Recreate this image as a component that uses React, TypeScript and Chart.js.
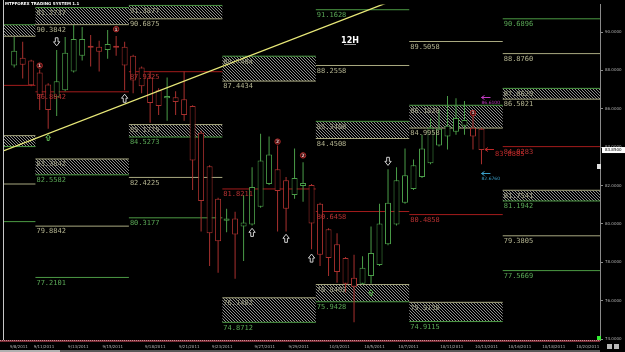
import { useEffect, useRef } from 'react';
import { Chart, registerables } from 'chart.js';

Chart.register(...registerables);

// ---- candle data (12H) ----
const opens = [88.25, 88.66, 88.51, 87.89, 87.27, 86.60, 86.96, 87.94, 88.77, 89.28, 89.23, 89.07, 89.28, 89.23, 88.77, 88.15, 87.63, 86.96, 86.55, 86.60, 86.50, 86.14, 84.75, 83.00, 81.31, 80.17, 80.28, 79.87, 79.97, 80.89, 82.08, 82.85, 82.28, 81.51, 81.97, 82.03, 81.05, 79.72, 78.94, 78.22, 77.19, 76.88, 77.29, 77.86, 78.94, 79.97, 81.10, 81.82, 82.44, 83.16, 84.08, 84.55, 84.80, 85.11, 85.01, 84.96];
const highs = [89.74, 89.49, 88.56, 88.05, 87.33, 89.07, 89.74, 90.36, 90.26, 89.85, 89.54, 90.10, 89.79, 89.49, 88.82, 88.20, 87.94, 87.07, 87.63, 86.91, 87.94, 86.19, 84.86, 83.06, 81.36, 80.79, 80.64, 81.51, 82.95, 84.70, 84.55, 84.08, 82.44, 83.93, 83.21, 82.08, 81.10, 79.77, 79.51, 78.27, 78.39, 78.32, 79.87, 81.05, 82.85, 82.95, 83.93, 83.36, 84.65, 85.52, 85.94, 86.66, 86.55, 86.40, 85.68, 85.01];
const lows = [88.15, 87.58, 87.17, 85.94, 84.96, 85.63, 86.91, 87.89, 88.51, 88.20, 87.94, 88.61, 88.77, 86.96, 86.81, 86.81, 85.27, 85.68, 85.37, 85.68, 85.37, 81.77, 79.61, 77.81, 77.45, 79.56, 77.14, 78.07, 79.92, 80.84, 82.03, 79.61, 79.61, 81.31, 81.15, 78.68, 77.81, 77.29, 76.93, 76.42, 74.88, 76.83, 76.88, 77.81, 78.89, 79.92, 81.05, 81.77, 82.39, 83.11, 84.03, 83.88, 84.65, 84.65, 83.88, 83.11];
const closes = [89.02, 88.30, 87.22, 86.71, 85.94, 87.43, 88.92, 89.64, 89.64, 89.18, 88.97, 89.38, 89.18, 88.25, 87.48, 87.17, 86.30, 86.14, 86.66, 86.35, 85.68, 83.31, 81.20, 79.51, 79.09, 80.28, 79.45, 80.07, 81.92, 83.31, 83.62, 81.72, 80.79, 82.39, 82.13, 80.02, 78.39, 78.22, 77.50, 76.88, 76.73, 77.71, 78.48, 80.02, 81.10, 82.28, 82.54, 83.06, 83.93, 85.01, 84.96, 85.11, 85.52, 85.42, 84.55, 83.85];

// ---- weekly level columns (in candle-index units) ----
const weekBounds = [-8.5, 2.5, 13.5, 24.5, 35.5, 46.5, 57.5, 70];

const greenLineCols = [0, 1, 2, 4, 6, 6];
const greenLineVals = [80.12, 77.2101, 80.3177, 91.1628, 90.6896, 77.5669];
const khakiLineCols = [0, 1, 2, 4, 5, 6, 6];
const khakiLineVals = [82.08, 79.8842, 82.4225, 88.2558, 89.5058, 88.876, 79.3805];
const redLineCols = [0, 1, 2, 3, 4, 5, 6];
const redLineVals = [87.22, 86.8842, 87.9325, 81.8211, 80.6458, 80.4858, 84.0283];

const resZoneCols = [0, 1, 2, 3, 4, 5, 6];
const resZoneTops = [90.38, 91.2737, 91.3877, 88.7404, 85.3468, 86.1828, 87.0629];
const resZoneBottoms = [89.78, 90.3842, 90.6875, 87.4434, 84.4508, 84.9958, 86.5021];
const supZoneCols = [0, 1, 2, 3, 4, 5, 6];
const supZoneTops = [84.60, 83.3842, 85.1775, 76.1482, 76.8402, 75.9138, 81.7541];
const supZoneBottoms = [84.03, 82.5582, 84.5273, 74.8712, 75.9428, 74.9115, 81.1942];

// ---- trend line ----
const trendX = [-1.2, 50];
const trendY = [83.82, 92.57];

// ---- signal markers ----
const markerIdx = [3, 5, 12, 13, 4, 28, 31, 32, 34, 35, 42, 44, 54];
const markerVals = [88.25, 89.49, 90.15, 86.55, 84.50, 79.56, 84.29, 79.25, 83.57, 78.22, 76.42, 83.26, 85.78];
const markerKinds = ['r1', 'down', 'r1', 'up', 'gup', 'up', 'r2', 'up', 'r2', 'up', 'gup', 'down', 'r1'];

// ---- price arrows at the last candle ----
const arrowVals = [86.61, 83.8885, 82.676];
const arrowColors = ['#c23cc2', '#c02828', '#3a9ec8'];
const arrowIdx = 55;
const lastPrice = 83.85;

// ---- axes ----
const dateIdx = [0.55, 3.5, 7.55, 11.6, 16.6, 20.6, 24.5, 29.5, 33.5, 38.3, 42.4, 46.4, 51.5, 55.6, 59.5, 63.5, 67.5];
const dateLabels = ['9/8/2011', '9/11/2011', '9/13/2011', '9/15/2011', '9/18/2011', '9/21/2011', '9/23/2011', '9/27/2011', '9/29/2011', '10/3/2011', '10/5/2011', '10/7/2011', '10/11/2011', '10/13/2011', '10/16/2011', '10/18/2011', '10/20/2011'];
const yTickVals = [74, 76, 78, 80, 82, 84, 86, 88, 90];

const GREEN_LINE = '#4c9a44';
const KHAKI_LINE = '#a9a980';
const RED_LINE = '#a31c1c';
const GREEN_C = '#4a9c48';
const RED_C = '#a8302e';
const GREEN_TXT = '#5aa856';
const KHAKI_TXT = '#b4b490';
const RED_TXT = '#b83232';
const ZONE_TXT = '#a0a084';

function segs(cols: number[], vals: number[]) {
  const out: any[] = [];
  cols.forEach((c, i) => {
    out.push({ x: weekBounds[c], y: vals[i] }, { x: weekBounds[c + 1], y: vals[i] }, { x: weekBounds[c + 1], y: null });
  });
  return out;
}

function hollowArrow(ctx: CanvasRenderingContext2D, cx: number, cy: number, dir: number, color: string, s: number) {
  const p = [[-1.5, -4.5], [1.5, -4.5], [1.5, 0], [3.5, 0], [0, 4.5], [-3.5, 0], [-1.5, 0]];
  ctx.beginPath();
  p.forEach(([a, b], k) => {
    const X = cx + a * s, Y = cy + b * dir * s;
    if (k) ctx.lineTo(X, Y); else ctx.moveTo(X, Y);
  });
  ctx.closePath();
  ctx.strokeStyle = color;
  ctx.lineWidth = 1;
  ctx.stroke();
}

export default function App() {
  const ref = useRef<HTMLCanvasElement>(null);
  useEffect(() => {
    document.body.style.margin = '0';
    document.body.style.background = '#000';
    const canvas = ref.current!;
    const idx = opens.map((_, i) => i);
    const colors = idx.map(i => (closes[i] >= opens[i] ? GREEN_C : RED_C));

    const pc = document.createElement('canvas');
    pc.width = 3; pc.height = 3;
    const pg = pc.getContext('2d')!;
    pg.fillStyle = '#8e8e8e';
    for (let i = 0; i < 3; i++) pg.fillRect(i, i, 1, 1);

    const overlay = {
      id: 'overlay',
      beforeDraw(chart: any) {
        const ctx = chart.ctx;
        ctx.save();
        ctx.fillStyle = '#000';
        ctx.fillRect(0, 0, chart.width, chart.height);
        ctx.restore();
      },
      beforeDatasetsDraw(chart: any) {
        const ctx = chart.ctx as CanvasRenderingContext2D;
        const xs = chart.scales.x, ys = chart.scales.y, a = chart.chartArea;
        const pat = ctx.createPattern(pc, 'repeat')!;
        ctx.save();
        ctx.beginPath(); ctx.rect(a.left, a.top, a.right - a.left, a.bottom - a.top); ctx.clip();
        ctx.fillStyle = pat;
        const zone = (c: number, t: number, b: number) => {
          const x1 = xs.getPixelForValue(weekBounds[c]);
          const x2 = xs.getPixelForValue(weekBounds[c + 1]);
          const y1 = ys.getPixelForValue(t);
          const y2 = ys.getPixelForValue(b);
          ctx.fillRect(x1, y1, x2 - x1, y2 - y1);
        };
        resZoneCols.forEach((c, i) => zone(c, resZoneTops[i], resZoneBottoms[i]));
        supZoneCols.forEach((c, i) => zone(c, supZoneTops[i], supZoneBottoms[i]));
        ctx.restore();
      },
      afterDatasetsDraw(chart: any) {
        const ctx = chart.ctx as CanvasRenderingContext2D;
        const xs = chart.scales.x, ys = chart.scales.y, a = chart.chartArea;
        ctx.save();
        ctx.beginPath(); ctx.rect(a.left, a.top, a.right - a.left, a.bottom - a.top); ctx.clip();
        ctx.font = '7px "DejaVu Sans Mono"';
        ctx.textBaseline = 'top';
        ctx.textAlign = 'left';
        const lbl = (c: number, v: number, color: string) => {
          ctx.fillStyle = color;
          ctx.fillText(v.toFixed(4), xs.getPixelForValue(weekBounds[c]) + 1, ys.getPixelForValue(v) + 2);
        };
        greenLineCols.forEach((c, i) => lbl(c, greenLineVals[i], GREEN_TXT));
        khakiLineCols.forEach((c, i) => lbl(c, khakiLineVals[i], KHAKI_TXT));
        redLineCols.forEach((c, i) => lbl(c, redLineVals[i], RED_TXT));
        resZoneCols.forEach((c, i) => { lbl(c, resZoneTops[i], ZONE_TXT); lbl(c, resZoneBottoms[i], KHAKI_TXT); });
        supZoneCols.forEach((c, i) => { lbl(c, supZoneTops[i], ZONE_TXT); lbl(c, supZoneBottoms[i], GREEN_TXT); });

        // markers
        markerIdx.forEach((mi, i) => {
          const x = xs.getPixelForValue(mi);
          const y = ys.getPixelForValue(markerVals[i]);
          const k = markerKinds[i];
          if (k === 'down') hollowArrow(ctx, x, y, 1, '#d0d0d0', 0.9);
          else if (k === 'up') hollowArrow(ctx, x, y, -1, '#d0d0d0', 0.9);
          else if (k === 'gup') hollowArrow(ctx, x, y, -1, '#5ab050', 0.65);
          else {
            ctx.beginPath();
            ctx.arc(x, y, 2.7, 0, Math.PI * 2);
            ctx.fillStyle = '#3a0c0c';
            ctx.fill();
            ctx.strokeStyle = '#b02a2a';
            ctx.lineWidth = 1;
            ctx.stroke();
            ctx.fillStyle = '#e8c0c0';
            ctx.font = 'bold 4.5px "DejaVu Sans"';
            ctx.textAlign = 'center';
            ctx.textBaseline = 'middle';
            ctx.fillText(k === 'r1' ? '1' : '2', x, y + 0.3);
            ctx.textAlign = 'left';
            ctx.textBaseline = 'top';
          }
        });

        // price arrows
        arrowVals.forEach((v, i) => {
          const y = Math.round(ys.getPixelForValue(v)) + 0.5;
          const x0 = xs.getPixelForValue(arrowIdx) + (i === 1 ? 3.5 : 0);
          ctx.strokeStyle = arrowColors[i];
          ctx.lineWidth = 1;
          ctx.beginPath();
          ctx.moveTo(x0 + 9, y); ctx.lineTo(x0, y);
          ctx.moveTo(x0 + 3, y - 2); ctx.lineTo(x0, y); ctx.lineTo(x0 + 3, y + 2);
          ctx.stroke();
          ctx.fillStyle = arrowColors[i];
          if (i === 1) {
            ctx.font = '7px "DejaVu Sans Mono"';
            ctx.fillText(v.toFixed(4), x0 + 10, y + 1);
          } else {
            ctx.font = '4.5px "DejaVu Sans"';
            ctx.fillText(v.toFixed(4), x0, y + 3);
          }
        });
        ctx.restore();
      },
      afterDraw(chart: any) {
        const ctx = chart.ctx as CanvasRenderingContext2D;
        const xs = chart.scales.x, ys = chart.scales.y, a = chart.chartArea;
        ctx.save();
        // left border
        ctx.fillStyle = '#c8c8c8';
        ctx.fillRect(3, 0, 1, a.bottom);
        // bottom band
        ctx.fillStyle = '#7a2c36';
        ctx.fillRect(0, a.bottom, a.right, 2);
        ctx.fillStyle = '#c88c94';
        for (let x = 0; x < a.right; x += 2) ctx.fillRect(x, a.bottom, 1, 1);
        // date labels (x axis ticks)
        ctx.fillStyle = '#b4b4b4';
        ctx.font = '4px "DejaVu Sans"';
        ctx.textAlign = 'center';
        ctx.textBaseline = 'middle';
        dateIdx.forEach((d, i) => ctx.fillText(dateLabels[i], xs.getPixelForValue(d), a.bottom + 7));
        // scroll bar
        ctx.fillStyle = '#5a5a5a';
        ctx.fillRect(0, 350, 600, 2);
        ctx.fillStyle = '#b0b0b0';
        ctx.fillRect(0, 350, 60, 2);
        // title
        ctx.fillStyle = '#ffffff';
        ctx.font = 'bold 4px "DejaVu Sans"';
        ctx.textAlign = 'left';
        ctx.textBaseline = 'top';
        ctx.fillText('MTPFOREX TRADING SYSTEM 1.1', 5, 2);
        // 12H
        ctx.font = 'bold 8px "DejaVu Sans"';
        ctx.textAlign = 'center';
        ctx.textBaseline = 'alphabetic';
        ctx.fillText('12H', 350, 43);
        ctx.fillStyle = '#9a9a9a';
        ctx.fillRect(344, 44, 12, 1);
        // price box
        const py = ys.getPixelForValue(lastPrice);
        ctx.fillStyle = '#ffffff';
        ctx.fillRect(602, py - 3, 23, 6);
        ctx.fillStyle = '#000';
        ctx.font = '4px "DejaVu Sans"';
        ctx.textAlign = 'left';
        ctx.textBaseline = 'middle';
        ctx.fillText(lastPrice.toFixed(4), 605, py);
        // small widgets
        ctx.fillStyle = '#e0e0e0';
        ctx.fillRect(597, 164, 4, 5);
        ctx.fillStyle = '#33ee33';
        ctx.fillRect(597, 336, 4, 4);
        ctx.fillStyle = '#b8b8b8';
        ctx.fillRect(607, 344, 5, 5);
        ctx.fillRect(614, 344, 5, 5);
        ctx.restore();
      },
    };

    const chart = new Chart(canvas, {
      type: 'bar',
      data: {
        datasets: [
          {
            type: 'line',
            data: trendX.map((x, i) => ({ x, y: trendY[i] })),
            borderColor: '#e8e878',
            borderWidth: 1.3,
            pointRadius: 0,
            order: -1,
          } as any,
          {
            data: idx.map(i => ({ x: i, y: [opens[i], closes[i]] })),
            backgroundColor: '#000',
            borderColor: colors,
            borderWidth: 1,
            barThickness: 6,
            borderSkipped: false,
            inflateAmount: 0,
            grouped: false,
            order: 0,
          } as any,
          {
            data: idx.map(i => ({ x: i, y: [lows[i], highs[i]] })),
            backgroundColor: colors,
            borderWidth: 0,
            barThickness: 1,
            inflateAmount: 0,
            grouped: false,
            order: 1,
          } as any,
          {
            type: 'line',
            data: segs(redLineCols, redLineVals),
            borderColor: RED_LINE, borderWidth: 1, pointRadius: 0, spanGaps: false, order: 2,
          } as any,
          {
            type: 'line',
            data: [...segs(khakiLineCols, khakiLineVals), ...segs(resZoneCols, resZoneBottoms), ...segs(supZoneCols, supZoneTops)],
            borderColor: KHAKI_LINE, borderWidth: 1, pointRadius: 0, spanGaps: false, order: 3,
          } as any,
          {
            type: 'line',
            data: [...segs(greenLineCols, greenLineVals), ...segs(resZoneCols, resZoneTops), ...segs(supZoneCols, supZoneBottoms)],
            borderColor: GREEN_LINE, borderWidth: 1, pointRadius: 0, spanGaps: false, order: 4,
          } as any,
        ],
      },
      options: {
        animation: false,
        responsive: false,
        devicePixelRatio: 1,
        events: [],
        layout: { padding: { left: 4, right: 0, top: 0, bottom: 0 } },
        plugins: { legend: { display: false }, tooltip: { enabled: false } },
        scales: {
          x: {
            type: 'linear',
            min: -1.2,
            max: 68.95,
            offset: false,
            grid: { display: false },
            border: { display: false },
            afterFit: (s: any) => { s.height = 12; },
            afterBuildTicks: (s: any) => { s.ticks = dateIdx.map(v => ({ value: v })); },
            ticks: { display: false },
          },
          y: {
            type: 'linear',
            position: 'right',
            min: 73.95,
            max: 91.44,
            beginAtZero: false,
            grid: { drawOnChartArea: false, drawTicks: true, tickLength: 3, color: '#8a8a8a' },
            border: { display: true, color: '#8a8a8a' },
            afterFit: (s: any) => { s.width = 25; },
            afterBuildTicks: (s: any) => { s.ticks = yTickVals.map(v => ({ value: v })); },
            ticks: {
              padding: 2,
              color: '#b0b0b0',
              font: { family: 'DejaVu Sans', size: 4 },
              callback: (v: any) => Number(v).toFixed(4),
            },
          },
        },
      } as any,
      plugins: [overlay],
    });
    return () => chart.destroy();
  }, []);
  return <canvas ref={ref} width={625} height={352} style={{ display: 'block', width: 625, height: 352 }} />;
}
